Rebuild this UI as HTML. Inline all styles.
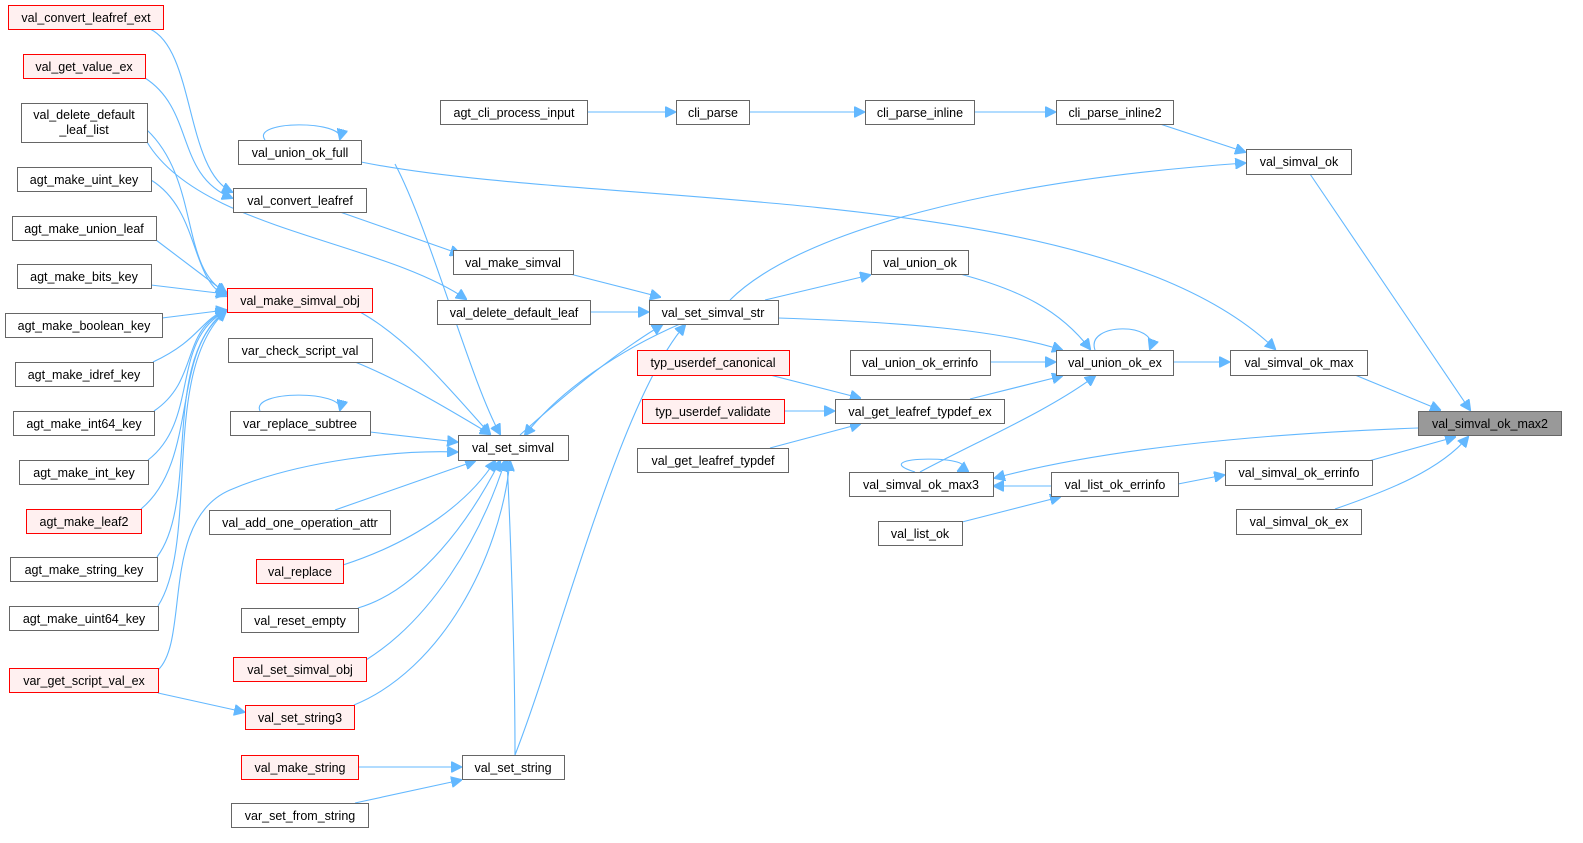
<!DOCTYPE html>
<html><head><meta charset="utf-8"><style>
html,body{margin:0;padding:0;background:#fff;}
svg{display:block;font-family:"Liberation Sans",Arial,sans-serif;font-size:12.5px;}
.n rect{fill:#fff;stroke:#666;stroke-width:1;}
.r rect{fill:#fff0f0;stroke:#ff0000;}
.g rect{fill:#999;stroke:#666;}
text{text-anchor:middle;fill:#000;}
.e path{fill:none;stroke:#63b8ff;stroke-width:1.1;marker-end:url(#a);}
</style></head><body>
<svg width="1583" height="843" viewBox="0 0 1583 843">
<defs><marker id="a" viewBox="0 0 10 10" refX="9" refY="5" markerWidth="11" markerHeight="11" markerUnits="userSpaceOnUse" orient="auto"><path d="M0,0 L10,5 L0,10 z" fill="#63b8ff" stroke="#63b8ff"/></marker></defs>
<g class="e">
<path d="M587,112 L675,112"/>
<path d="M749,112 L864,112"/>
<path d="M974,112 L1055,112"/>
<path d="M1160,124 L1245,152"/>
<path d="M1310,174 L1470,410"/>
<path d="M1355,375 L1440,410"/>
<path d="M1365,462 L1455,437"/>
<path d="M1335,509 C1390,490 1440,470 1468,437"/>
<path d="M1418,428 C1250,434 1100,450 995,478"/>
<path d="M1173,362 L1229,362"/>
<path d="M361,162 C600,210 1100,180 1275,349"/>
<path d="M730,300 C800,230 1000,180 1245,163"/>
<path d="M960,274 C1020,290 1060,310 1090,349"/>
<path d="M778,318 C900,322 1000,330 1062,350"/>
<path d="M990,362 L1055,362"/>
<path d="M970,399 L1062,376"/>
<path d="M920,472 C980,440 1050,410 1095,376"/>
<path d="M1095,350 C1085,322 1160,322 1150,349"/>
<path d="M915,472 C860,455 990,455 958,471"/>
<path d="M1051,486 L994,486"/>
<path d="M1178,484 L1224,475"/>
<path d="M962,522 L1060,497"/>
<path d="M770,375 L860,398"/>
<path d="M784,411 L834,411"/>
<path d="M770,448 L860,424"/>
<path d="M765,300 L870,275"/>
<path d="M570,274 L660,297"/>
<path d="M590,312 L648,312"/>
<path d="M520,435 C570,390 620,350 662,325"/>
<path d="M680,324 C620,350 560,390 525,435"/>
<path d="M515,755 C560,640 620,400 685,325"/>
<path d="M340,212 L460,254"/>
<path d="M150,29 C195,50 185,170 232,192"/>
<path d="M145,78 C195,110 175,175 232,198"/>
<path d="M147,142 C200,230 380,240 466,299"/>
<path d="M265,140 C250,120 345,120 340,139"/>
<path d="M395,164 C430,230 470,380 500,434"/>
<path d="M360,312 C410,340 450,390 490,434"/>
<path d="M355,362 C400,380 450,410 490,434"/>
<path d="M370,432 L457,442"/>
<path d="M260,411 C250,390 345,390 340,410"/>
<path d="M158,670 C190,640 160,520 230,490 C300,460 400,450 457,452"/>
<path d="M335,510 L475,461"/>
<path d="M343,565 C420,540 470,500 495,461"/>
<path d="M358,608 C420,590 470,520 500,461"/>
<path d="M366,660 C430,620 480,540 505,461"/>
<path d="M354,705 C440,670 500,560 510,461"/>
<path d="M158,693 L244,712"/>
<path d="M358,767 L461,767"/>
<path d="M355,803 L461,780"/>
<path d="M515,755 C515,650 510,520 507,461"/>
<path d="M151,180 C200,210 190,280 226,296"/>
<path d="M156,240 L226,293"/>
<path d="M151,285 L226,294"/>
<path d="M162,318 L226,310"/>
<path d="M153,362 C200,340 200,320 226,310"/>
<path d="M154,411 C200,380 180,330 226,311"/>
<path d="M148,460 C200,420 170,340 226,311"/>
<path d="M141,509 C200,460 170,350 226,311"/>
<path d="M157,557 C200,500 160,360 226,311"/>
<path d="M158,606 C200,540 160,370 226,311"/>
<path d="M147,130 C200,180 180,270 226,292"/>
</g>
<g class="n r"><rect x="8.5" y="5.5" width="155" height="24"/><text x="86" y="22">val_convert_leafref_ext</text></g>
<g class="n r"><rect x="23.5" y="54.5" width="122" height="24"/><text x="84" y="71">val_get_value_ex</text></g>
<g class="n"><rect x="21.5" y="103.5" width="126" height="39"/><text x="84" y="119">val_delete_default</text><text x="84" y="134">_leaf_list</text></g>
<g class="n"><rect x="17.5" y="167.5" width="134" height="24"/><text x="84" y="184">agt_make_uint_key</text></g>
<g class="n"><rect x="12.5" y="216.5" width="144" height="24"/><text x="84" y="233">agt_make_union_leaf</text></g>
<g class="n"><rect x="17.5" y="264.5" width="134" height="24"/><text x="84" y="281">agt_make_bits_key</text></g>
<g class="n"><rect x="5.5" y="313.5" width="157" height="24"/><text x="84" y="330">agt_make_boolean_key</text></g>
<g class="n"><rect x="15.5" y="362.5" width="138" height="24"/><text x="84" y="379">agt_make_idref_key</text></g>
<g class="n"><rect x="13.5" y="411.5" width="141" height="24"/><text x="84" y="428">agt_make_int64_key</text></g>
<g class="n"><rect x="19.5" y="460.5" width="129" height="24"/><text x="84" y="477">agt_make_int_key</text></g>
<g class="n r"><rect x="26.5" y="509.5" width="115" height="24"/><text x="84" y="526">agt_make_leaf2</text></g>
<g class="n"><rect x="10.5" y="557.5" width="147" height="24"/><text x="84" y="574">agt_make_string_key</text></g>
<g class="n"><rect x="9.5" y="606.5" width="149" height="24"/><text x="84" y="623">agt_make_uint64_key</text></g>
<g class="n r"><rect x="9.5" y="668.5" width="149" height="24"/><text x="84" y="685">var_get_script_val_ex</text></g>

<g class="n"><rect x="238.5" y="140.5" width="123" height="24"/><text x="300" y="157">val_union_ok_full</text></g>
<g class="n"><rect x="233.5" y="188.5" width="133" height="24"/><text x="300" y="205">val_convert_leafref</text></g>
<g class="n r"><rect x="227.5" y="288.5" width="145" height="24"/><text x="300" y="305">val_make_simval_obj</text></g>
<g class="n"><rect x="228.5" y="338.5" width="144" height="24"/><text x="300" y="355">var_check_script_val</text></g>
<g class="n"><rect x="230.5" y="411.5" width="140" height="24"/><text x="300" y="428">var_replace_subtree</text></g>
<g class="n"><rect x="209.5" y="510.5" width="181" height="24"/><text x="300" y="527">val_add_one_operation_attr</text></g>
<g class="n r"><rect x="256.5" y="559.5" width="87" height="24"/><text x="300" y="576">val_replace</text></g>
<g class="n"><rect x="241.5" y="608.5" width="117" height="24"/><text x="300" y="625">val_reset_empty</text></g>
<g class="n r"><rect x="233.5" y="657.5" width="133" height="24"/><text x="300" y="674">val_set_simval_obj</text></g>
<g class="n r"><rect x="245.5" y="705.5" width="109" height="24"/><text x="300" y="722">val_set_string3</text></g>
<g class="n r"><rect x="241.5" y="755.5" width="117" height="24"/><text x="300" y="772">val_make_string</text></g>
<g class="n"><rect x="231.5" y="803.5" width="137" height="24"/><text x="300" y="820">var_set_from_string</text></g>

<g class="n"><rect x="440.5" y="100.5" width="147" height="24"/><text x="514" y="117">agt_cli_process_input</text></g>
<g class="n"><rect x="453.5" y="250.5" width="120" height="24"/><text x="513" y="267">val_make_simval</text></g>
<g class="n"><rect x="437.5" y="300.5" width="153" height="24"/><text x="514" y="317">val_delete_default_leaf</text></g>
<g class="n"><rect x="458.5" y="435.5" width="110" height="25"/><text x="513" y="452">val_set_simval</text></g>
<g class="n"><rect x="462.5" y="755.5" width="102" height="24"/><text x="513" y="772">val_set_string</text></g>

<g class="n"><rect x="676.5" y="100.5" width="73" height="24"/><text x="713" y="117">cli_parse</text></g>
<g class="n"><rect x="649.5" y="300.5" width="129" height="24"/><text x="713" y="317">val_set_simval_str</text></g>
<g class="n r"><rect x="637.5" y="350.5" width="152" height="25"/><text x="713" y="367">typ_userdef_canonical</text></g>
<g class="n r"><rect x="642.5" y="399.5" width="142" height="24"/><text x="713" y="416">typ_userdef_validate</text></g>
<g class="n"><rect x="637.5" y="448.5" width="151" height="24"/><text x="713" y="465">val_get_leafref_typdef</text></g>

<g class="n"><rect x="865.5" y="100.5" width="109" height="24"/><text x="920" y="117">cli_parse_inline</text></g>
<g class="n"><rect x="871.5" y="250.5" width="97" height="24"/><text x="920" y="267">val_union_ok</text></g>
<g class="n"><rect x="850.5" y="350.5" width="140" height="25"/><text x="920" y="367">val_union_ok_errinfo</text></g>
<g class="n"><rect x="835.5" y="399.5" width="169" height="24"/><text x="920" y="416">val_get_leafref_typdef_ex</text></g>
<g class="n"><rect x="849.5" y="472.5" width="144" height="24"/><text x="921" y="489">val_simval_ok_max3</text></g>
<g class="n"><rect x="878.5" y="521.5" width="84" height="24"/><text x="920" y="538">val_list_ok</text></g>

<g class="n"><rect x="1056.5" y="100.5" width="117" height="24"/><text x="1115" y="117">cli_parse_inline2</text></g>
<g class="n"><rect x="1056.5" y="350.5" width="117" height="25"/><text x="1115" y="367">val_union_ok_ex</text></g>
<g class="n"><rect x="1051.5" y="472.5" width="127" height="24"/><text x="1115" y="489">val_list_ok_errinfo</text></g>

<g class="n"><rect x="1246.5" y="149.5" width="105" height="25"/><text x="1299" y="166">val_simval_ok</text></g>
<g class="n"><rect x="1230.5" y="350.5" width="137" height="25"/><text x="1299" y="367">val_simval_ok_max</text></g>
<g class="n g"><rect x="1418.5" y="411.5" width="143" height="24"/><text x="1490" y="428">val_simval_ok_max2</text></g>
<g class="n"><rect x="1225.5" y="460.5" width="147" height="25"/><text x="1299" y="477">val_simval_ok_errinfo</text></g>
<g class="n"><rect x="1236.5" y="509.5" width="125" height="25"/><text x="1299" y="526">val_simval_ok_ex</text></g>
</svg>
</body></html>
